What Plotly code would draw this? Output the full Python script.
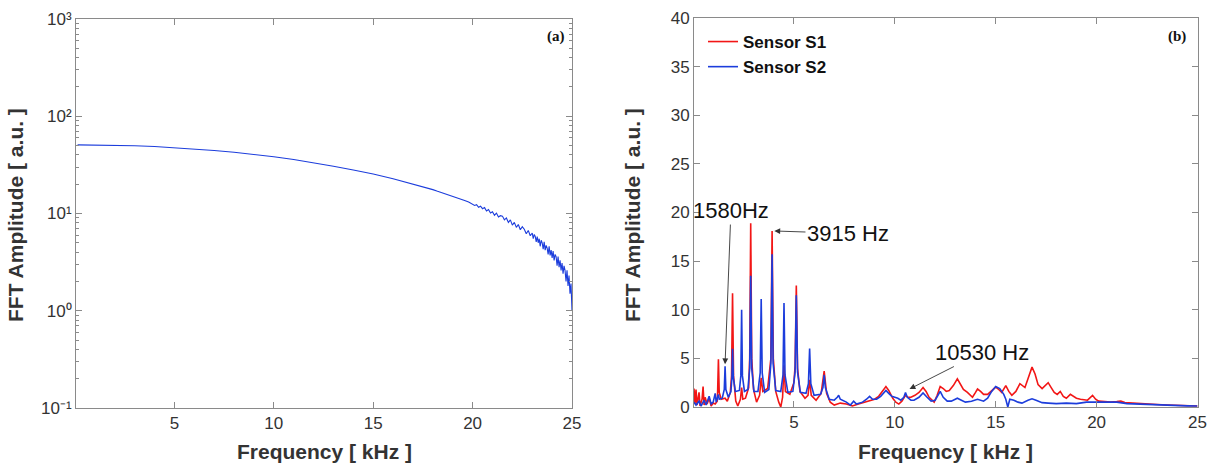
import plotly.graph_objects as go

# ---------------- data ----------------
# (a) broadband spectrum, log scale
LEFT_F = [0.13, 1, 2, 3, 4, 5, 6, 7, 8, 9, 10, 11, 12, 13, 14, 15, 16, 17,
          18.0, 18.2, 18.4, 18.6, 18.8, 19.0, 19.2, 19.4, 19.6, 19.8, 20.0,
          20.1, 20.2, 20.3, 20.4, 20.5, 20.6, 20.7, 20.8, 20.9, 21.0,
          21.1, 21.2, 21.3, 21.4, 21.5, 21.6, 21.7, 21.8, 21.9, 22.0,
          22.1, 22.2, 22.3, 22.4, 22.5, 22.6, 22.7, 22.8, 22.9, 23.0,
          23.05, 23.10, 23.15, 23.20, 23.25, 23.30, 23.35, 23.40, 23.45, 23.50,
          23.55, 23.60, 23.65, 23.70, 23.75, 23.80, 23.85, 23.90, 23.95, 24.00,
          24.05, 24.10, 24.15, 24.20, 24.25, 24.30, 24.35, 24.40, 24.45, 24.50,
          24.55, 24.60, 24.65, 24.70, 24.75, 24.80, 24.85, 24.90, 24.95, 25.00]
LEFT_A = [50.8, 50.7, 50.4, 49.8, 48.8, 47.6, 46.2, 44.5, 42.6, 40.5, 38.3, 35.9,
          33.4, 30.6, 28.0, 25.5, 22.8, 20.2,
          17.6, 17.0, 16.5, 15.9, 15.5, 14.9, 14.5, 14.0, 13.6, 13.1, 12.5,
          12.1, 12.3, 11.6, 11.9, 11.2, 11.5, 10.6, 11.0, 10.1, 10.4,
          9.6, 10.1, 9.2, 9.5, 9.4, 8.6, 9.0, 8.1, 8.6, 7.6,
          8.1, 7.2, 7.7, 6.8, 7.3, 6.9, 6.2, 6.7, 5.9, 6.3,
          5.5, 6.1, 5.8, 5.1, 5.8, 5.0, 5.5, 4.6, 5.3, 5.0,
          4.3, 5.1, 4.2, 4.7, 4.4, 3.8, 4.6, 3.7, 4.2, 3.5,
          4.1, 3.3, 3.8, 3.6, 2.9, 3.6, 2.8, 3.3, 2.6, 3.1,
          2.4, 2.9, 2.6, 2.0, 2.6, 1.8, 2.3, 1.5, 1.9, 1.0]

# (b) Sensor S1 (red)
S1_F = [0.05, 0.10, 0.15, 0.20, 0.30, 0.35, 0.45, 0.50, 0.55, 0.60, 0.70, 0.80,
        0.90, 1.00, 1.10, 1.20, 1.22, 1.26, 1.30, 1.40, 1.59, 1.70, 1.85, 1.91,
        1.96, 2.01, 2.12, 2.22, 2.35, 2.41, 2.47, 2.60, 2.76, 2.81, 2.86, 2.91,
        3.00, 3.15, 3.30, 3.38, 3.46, 3.70, 3.86, 3.92, 3.98, 4.10, 4.25, 4.35,
        4.44, 4.51, 4.58, 4.80, 5.00, 5.06, 5.12, 5.18, 5.30, 5.55, 5.70, 5.78,
        5.86, 6.10, 6.35, 6.50, 6.62, 6.80, 7.00, 7.30, 7.60, 7.90, 8.20,
        8.50, 8.80, 9.00, 9.20, 9.40, 9.56, 9.70, 9.90, 10.05, 10.20, 10.35,
        10.53, 10.65, 10.80, 11.00, 11.20, 11.40, 11.55, 11.70, 11.95, 12.10,
        12.25, 12.40, 12.55, 12.70, 12.90, 13.10, 13.25, 13.40, 13.60, 13.85,
        14.00, 14.10, 14.25, 14.40, 14.60, 14.80, 15.00, 15.15, 15.30, 15.50,
        15.65, 15.80, 16.00, 16.20, 16.35, 16.45, 16.60, 16.80, 16.95, 17.10,
        17.30, 17.45, 17.60, 17.75, 17.90, 18.05, 18.20, 18.35, 18.50, 18.70,
        18.85, 19.00, 19.20, 19.40, 19.55, 19.80, 19.95, 20.10, 20.40, 20.70,
        21.00, 21.20, 21.40, 21.70, 22.00, 22.50, 23.00, 23.50, 24.00, 24.50,
        25.00]
S1_A = [1.9, 0.3, 1.8, 0.2, 1.5, 0.1, 0.8, 2.1, 0.2, 1.0, 0.3, 0.9,
        0.1, 0.4, 0.3, 0.6, 1.5, 4.9, 1.5, 0.8, 0.9, 0.6, 1.5, 3.2,
        11.7, 3.2, 0.6, 0.1, 0.8, 2.0, 0.8, 0.9, 2.0, 5.0, 18.9, 5.0,
        1.8, 0.5, 1.2, 3.0, 1.6, 1.9, 5.0, 18.1, 5.0, 1.6, 0.5, 0.0,
        1.0, 4.3, 1.6, 1.3, 2.5, 4.2, 12.5, 4.0, 1.6, 0.9, 1.2, 2.8,
        1.2, 0.7, 1.4, 3.7, 1.4, 0.5, 0.2, 0.4, 0.3, 0.1, 0.3,
        0.5, 0.7, 0.8, 1.1, 1.6, 2.1, 1.7, 0.9, 0.5, 0.3, 0.6,
        1.2, 1.0, 1.0, 1.2, 1.5, 2.0, 1.6, 1.0, 0.5, 1.2,
        2.1, 1.9, 1.6, 1.7, 2.2, 2.9, 2.4, 1.8, 1.5, 1.0,
        1.5, 1.85, 1.6, 1.3, 1.3, 1.7, 2.05, 1.8, 1.5, 2.2,
        1.6, 1.2, 1.6, 2.4, 2.2, 2.0, 2.9, 4.1, 3.4, 2.3,
        1.9, 2.2, 2.5, 2.0, 1.5, 1.3, 1.6, 1.1, 0.9, 1.3,
        1.1, 0.9, 0.8, 0.7, 0.7, 1.2, 0.8, 0.6, 0.55, 0.5,
        0.55, 0.6, 0.45, 0.4, 0.35, 0.3, 0.25, 0.2, 0.18, 0.12,
        0.1]

# (b) Sensor S2 (blue)
S2_F = [0.05, 0.15, 0.30, 0.40, 0.55, 0.65, 0.80, 0.90, 1.00, 1.10, 1.15, 1.22,
        1.26, 1.30, 1.45, 1.55, 1.59, 1.63, 1.75, 1.88, 1.93, 1.96, 2.00, 2.10,
        2.30, 2.37, 2.41, 2.45, 2.55, 2.72, 2.81, 2.86, 2.91, 3.02, 3.22, 3.33,
        3.38, 3.43, 3.55, 3.76, 3.86, 3.92, 3.97, 4.10, 4.35, 4.46, 4.51, 4.56,
        4.70, 4.95, 5.06, 5.12, 5.18, 5.32, 5.60, 5.72, 5.78, 5.84, 6.00, 6.32,
        6.44, 6.50, 6.56, 6.75, 7.00, 7.15, 7.22, 7.30, 7.60, 7.80, 7.96,
        8.10, 8.40, 8.60, 8.75, 8.90, 9.10, 9.30, 9.56, 9.70, 9.85, 10.00,
        10.15, 10.30, 10.45, 10.53, 10.62, 10.80, 10.95, 11.20, 11.40, 11.60,
        11.80, 12.00, 12.15, 12.25, 12.40, 12.60, 12.80, 13.10, 13.30, 13.50,
        13.80, 14.10, 14.40, 14.60, 14.80, 15.00, 15.20, 15.40, 15.50, 15.60,
        15.70, 15.90, 16.10, 16.30, 16.60, 16.80, 17.00, 17.30, 17.60, 18.00,
        18.50, 19.00, 19.50, 20.00, 20.50, 21.00, 21.50, 22.00, 22.50, 23.00,
        23.50, 24.00, 24.50, 25.00]
S2_A = [0.5, 0.2, 0.6, 0.1, 0.7, 0.2, 1.1, 0.3, 0.5, 1.4, 0.5, 0.9,
        1.3, 0.8, 0.9, 1.8, 4.2, 1.8, 1.0, 1.6, 3.0, 6.0, 3.0, 1.6,
        1.7, 3.2, 10.0, 3.2, 1.6, 1.8, 4.0, 13.5, 4.0, 1.6, 1.6, 3.5,
        11.1, 3.5, 1.5, 1.8, 4.5, 15.7, 4.5, 1.7, 1.6, 3.3, 10.7, 3.3,
        1.5, 1.6, 3.6, 11.5, 3.6, 1.5, 1.4, 2.4, 6.0, 2.4, 1.2, 1.3,
        2.0, 3.3, 2.0, 0.8, 0.7, 1.0, 1.2, 0.8, 0.5, 0.2, 0.6,
        0.3, 0.5, 0.8, 1.1, 0.8, 0.8, 1.1, 1.7, 1.4, 1.1, 1.0,
        0.9, 0.7, 1.0, 1.5, 1.0, 0.7, 0.7, 1.0, 1.45, 1.0,
        0.6, 0.7, 1.2, 1.6, 1.0, 0.6, 0.6, 0.9, 0.7, 0.5,
        0.6, 0.8, 0.6, 0.9, 1.6, 2.1, 1.9, 1.3, 0.8, 0.0,
        0.8, 0.7, 0.5, 0.4, 0.7, 0.85, 0.7, 0.45, 0.4, 0.35,
        0.4, 0.35, 0.5, 0.5, 0.45, 0.5, 0.35, 0.3, 0.25, 0.2,
        0.2, 0.15, 0.12, 0.1]

X_TICKS = [5, 10, 15, 20, 25]
LOG_TICKS = [0.1, 1, 10, 100, 1000]
LOG_TICK_TEXT = ["10\u207b\u00b9", "10\u2070", "10\u00b9", "10\u00b2", "10\u00b3"]
LIN_TICKS = [0, 5, 10, 15, 20, 25, 30, 35, 40]

# ---------------- style ----------------
W, H = 1219, 466
RED = "#f21616"
BLUE = "#1c3ddc"
AX = "#8a8a8a"
TXT = "#333333"
FONT = "Liberation Sans"


def px_x(p):
    return p / W


def px_y(p):
    return (H - p) / H


fig = go.Figure()
fig.add_trace(go.Scatter(x=LEFT_F, y=LEFT_A, mode="lines", xaxis="x", yaxis="y",
                         line=dict(color=BLUE, width=1.1), showlegend=False))
fig.add_trace(go.Scatter(x=S1_F, y=S1_A, mode="lines", xaxis="x2", yaxis="y2",
                         name="Sensor S1", line=dict(color=RED, width=1.6)))
fig.add_trace(go.Scatter(x=S2_F, y=S2_A, mode="lines", xaxis="x2", yaxis="y2",
                         name="Sensor S2", line=dict(color=BLUE, width=1.6)))

common = dict(showline=True, linecolor=AX, linewidth=1, mirror="ticks",
              ticks="inside", ticklen=6, tickcolor=AX, showgrid=False,
              zeroline=False, automargin=False,
              tickfont=dict(family=FONT, size=17, color=TXT))

minor_vals = [d * 10 ** k for k in (-1, 0, 1, 2) for d in range(2, 10)]

fig.update_layout(
    width=W, height=H,
    margin=dict(l=0, r=0, t=0, b=0),
    paper_bgcolor="white", plot_bgcolor="white",
    xaxis=dict(domain=[px_x(76), px_x(572)], range=[0.05, 25], tickvals=X_TICKS,
               anchor="y", **common),
    yaxis=dict(domain=[px_y(408), px_y(19)], type="log", range=[-1, 3],
               tickvals=LOG_TICKS, ticktext=LOG_TICK_TEXT, anchor="x",
               minor=dict(tickvals=minor_vals, ticks="inside", ticklen=3,
                          tickcolor=AX),
               **common),
    xaxis2=dict(domain=[px_x(694), px_x(1197.5)], range=[0.05, 25],
                tickvals=X_TICKS, anchor="y2", **common),
    yaxis2=dict(domain=[px_y(407), px_y(18)], range=[0, 40],
                tickvals=LIN_TICKS, anchor="x2", **common),
    legend=dict(x=px_x(703), y=px_y(24), xanchor="left", yanchor="top",
                bgcolor="rgba(0,0,0,0)", tracegroupgap=0,
                font=dict(family=FONT, size=17, color="#111", weight="bold")),
)

title_font = dict(family=FONT, size=21, color=TXT, weight="bold")
anns = [
    dict(text="FFT Amplitude [ a.u. ]", x=px_x(15), y=px_y(215), textangle=-90),
    dict(text="FFT Amplitude [ a.u. ]", x=px_x(632), y=px_y(215), textangle=-90),
    dict(text="Frequency [ kHz ]", x=px_x(324), y=px_y(451)),
    dict(text="Frequency [ kHz ]", x=px_x(945.5), y=px_y(451)),
]
for a in anns:
    fig.add_annotation(xref="paper", yref="paper", showarrow=False,
                       xanchor="center", yanchor="middle", font=title_font, **a)

panel_font = dict(family="Liberation Serif", size=15, color="#111", weight="bold")
fig.add_annotation(xref="paper", yref="paper", x=px_x(556), y=px_y(36),
                   xanchor="center", yanchor="middle",
                   text="(a)", showarrow=False, font=panel_font)
fig.add_annotation(xref="paper", yref="paper", x=px_x(1177), y=px_y(36),
                   xanchor="center", yanchor="middle",
                   text="(b)", showarrow=False, font=panel_font)

lab_font = dict(family=FONT, size=22, color="#111")
arrow = dict(xref="x2", yref="y2", axref="x2", ayref="y2",
             showarrow=True, arrowhead=2, arrowsize=1.3, arrowwidth=0.9,
             arrowcolor="#333", font=lab_font)
fig.add_annotation(x=1.59, y=4.4, ax=1.88, ay=20.2, text="1580Hz", **arrow)
fig.add_annotation(x=4.03, y=18.1, ax=7.68, ay=17.85, text="3915 Hz", **arrow)
fig.add_annotation(x=10.73, y=1.85, ax=14.3, ay=5.6, text="10530 Hz", **arrow)

fig.write_html("out.html")
